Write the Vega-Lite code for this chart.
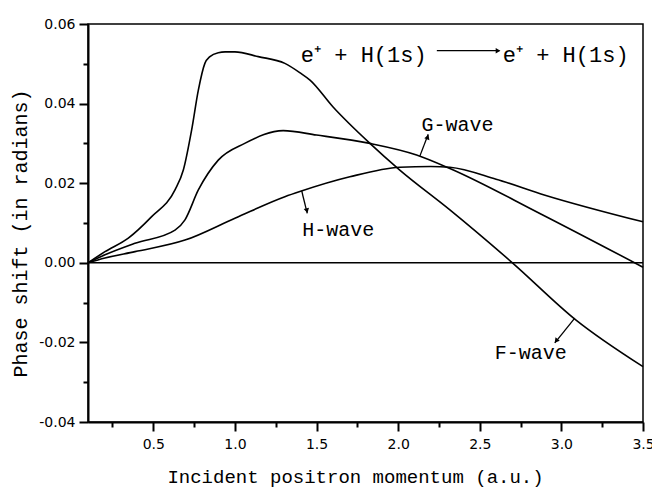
{
  "$schema": "https://vega.github.io/schema/vega-lite/v6.json",
  "width": 555,
  "height": 398,
  "autosize": "none",
  "padding": {"left": 88, "top": 24, "right": 9, "bottom": 65},
  "background": "white",
  "config": {"view": {"stroke": "black", "strokeWidth": 1.5}},
  "datasets": {
    "curves": [
      {"series": "F", "x": 0.1, "y": 0.0},
      {"series": "F", "x": 0.204, "y": 0.0028},
      {"series": "F", "x": 0.347, "y": 0.0062},
      {"series": "F", "x": 0.49, "y": 0.0116},
      {"series": "F", "x": 0.633, "y": 0.0183},
      {"series": "F", "x": 0.684, "y": 0.0233},
      {"series": "F", "x": 0.735, "y": 0.0334},
      {"series": "F", "x": 0.776, "y": 0.0434},
      {"series": "F", "x": 0.816, "y": 0.0501},
      {"series": "F", "x": 0.847, "y": 0.0518},
      {"series": "F", "x": 0.898, "y": 0.0528},
      {"series": "F", "x": 0.94, "y": 0.053},
      {"series": "F", "x": 1.0, "y": 0.053},
      {"series": "F", "x": 1.143, "y": 0.0518},
      {"series": "F", "x": 1.306, "y": 0.0501},
      {"series": "F", "x": 1.4, "y": 0.0477},
      {"series": "F", "x": 1.46, "y": 0.0459},
      {"series": "F", "x": 1.6, "y": 0.0392},
      {"series": "F", "x": 1.827, "y": 0.03},
      {"series": "F", "x": 2.01, "y": 0.0233},
      {"series": "F", "x": 2.317, "y": 0.0133},
      {"series": "F", "x": 2.7, "y": 0.0},
      {"series": "F", "x": 3.09, "y": -0.0144},
      {"series": "F", "x": 3.5, "y": -0.0261},
      {"series": "G", "x": 0.1, "y": 0.0},
      {"series": "G", "x": 0.204, "y": 0.002},
      {"series": "G", "x": 0.388, "y": 0.0049},
      {"series": "G", "x": 0.633, "y": 0.0082},
      {"series": "G", "x": 0.694, "y": 0.0108},
      {"series": "G", "x": 0.776, "y": 0.0183},
      {"series": "G", "x": 0.898, "y": 0.0258},
      {"series": "G", "x": 1.06, "y": 0.03},
      {"series": "G", "x": 1.296, "y": 0.0332},
      {"series": "G", "x": 1.5, "y": 0.0321},
      {"series": "G", "x": 1.827, "y": 0.03},
      {"series": "G", "x": 2.113, "y": 0.0271},
      {"series": "G", "x": 2.317, "y": 0.0237},
      {"series": "G", "x": 2.868, "y": 0.0124},
      {"series": "G", "x": 3.5, "y": -0.0011},
      {"series": "H", "x": 0.1, "y": 0.0},
      {"series": "H", "x": 0.204, "y": 0.0012},
      {"series": "H", "x": 0.388, "y": 0.0028},
      {"series": "H", "x": 0.694, "y": 0.0057},
      {"series": "H", "x": 1.0, "y": 0.0112},
      {"series": "H", "x": 1.306, "y": 0.0166},
      {"series": "H", "x": 1.398, "y": 0.0179},
      {"series": "H", "x": 1.704, "y": 0.0216},
      {"series": "H", "x": 2.01, "y": 0.024},
      {"series": "H", "x": 2.2, "y": 0.0242},
      {"series": "H", "x": 2.317, "y": 0.024},
      {"series": "H", "x": 2.6, "y": 0.021},
      {"series": "H", "x": 2.9, "y": 0.017},
      {"series": "H", "x": 3.5, "y": 0.0103},
      {"series": "zero", "x": 0.1, "y": 0.0},
      {"series": "zero", "x": 3.5, "y": 0.0}
    ],
    "arrows": [
      {"id": "G", "x": 2.133, "y": 0.0268, "x2": 2.184, "y2": 0.0323},
      {"id": "H", "x": 1.409, "y": 0.0181, "x2": 1.443, "y2": 0.0124},
      {"id": "F", "x": 3.082, "y": -0.0139, "x2": 2.96, "y2": -0.0201},
      {"id": "R", "x": 2.237, "y": 0.0533, "x2": 2.62, "y2": 0.0533}
    ],
    "heads": [
      {"id": "G", "x": 2.181, "y": 0.0316},
      {"id": "H", "x": 1.441, "y": 0.0131},
      {"id": "F", "x": 2.968, "y": -0.0196},
      {"id": "R", "x": 2.612, "y": 0.0533}
    ],
    "labels": [
      {"text": "G-wave", "x": 2.363, "y": 0.0346},
      {"text": "H-wave", "x": 1.633, "y": 0.0082},
      {"text": "F-wave", "x": 2.813, "y": -0.0227}
    ],
    "reaction": [
      {"text": "e⁺ + H(1s)", "x": 1.404, "y": 0.0504},
      {"text": "e⁺ + H(1s)", "x": 2.641, "y": 0.0504}
    ]
  },
  "encoding": {
    "x": {
      "field": "x",
      "type": "quantitative",
      "scale": {"domain": [0.1, 3.5], "nice": false, "zero": false},
      "title": "Incident positron momentum (a.u.)",
      "axis": {
        "values": [0.25, 0.5, 0.75, 1.0, 1.25, 1.5, 1.75, 2.0, 2.25, 2.5, 2.75, 3.0, 3.25, 3.5],
        "labelExpr": "abs(round(datum.value*2)-datum.value*2)<0.01 ? format(datum.value,'.1f') : ''",
        "tickSize": {"condition": {"test": "abs(round(datum.value*2)-datum.value*2)<0.01", "value": 9}, "value": 5},
        "tickWidth": 2,
        "tickColor": "black",
        "domainColor": "black",
        "domainWidth": 2,
        "grid": false,
        "labelFont": "DejaVu Sans",
        "labelFontSize": 14,
        "labelColor": "black",
        "labelPadding": 6,
        "labelOverlap": false,
        "labelFlush": false,
        "titleFont": "Liberation Mono",
        "titleFontSize": 19,
        "titleFontWeight": "normal",
        "titleColor": "black",
        "titleX": 267,
        "titleY": 60,
        "titleAlign": "center",
        "titleBaseline": "alphabetic"
      }
    },
    "y": {
      "field": "y",
      "type": "quantitative",
      "scale": {"domain": [-0.04, 0.06], "nice": false, "zero": false},
      "title": "Phase shift (in radians)",
      "axis": {
        "values": [-0.04, -0.03, -0.02, -0.01, 0, 0.01, 0.02, 0.03, 0.04, 0.05, 0.06],
        "labelExpr": "abs(round(datum.value*50)-datum.value*50)<0.01 ? (datum.value<-0.0001?'-':'') + format(abs(datum.value),'.2f') : ''",
        "tickSize": {"condition": {"test": "abs(round(datum.value*50)-datum.value*50)<0.01", "value": 9}, "value": 5},
        "tickWidth": 2,
        "tickColor": "black",
        "domainColor": "black",
        "domainWidth": 2,
        "grid": false,
        "labelFont": "DejaVu Sans",
        "labelFontSize": 14,
        "labelColor": "black",
        "labelPadding": 4,
        "labelOverlap": false,
        "labelFlush": false,
        "titleFont": "Liberation Mono",
        "titleFontSize": 20,
        "titleFontWeight": "normal",
        "titleColor": "black",
        "titleAngle": -90,
        "titleX": -68,
        "titleY": 209,
        "titleAlign": "center",
        "titleBaseline": "middle"
      }
    }
  },
  "layer": [
    {
      "data": {"name": "curves"},
      "mark": {"type": "line", "color": "black", "strokeWidth": 1.6, "interpolate": "monotone"},
      "encoding": {"detail": {"field": "series"}}
    },
    {
      "data": {"name": "arrows"},
      "mark": {"type": "rule", "color": "black", "strokeWidth": 1.3},
      "encoding": {"x2": {"field": "x2"}, "y2": {"field": "y2"}}
    },
    {
      "data": {"name": "heads"},
      "transform": [{"filter": "datum.id == 'G'"}],
      "mark": {"type": "point", "shape": "triangle-up", "filled": true, "color": "black", "size": 30, "angle": 21, "opacity": 1}
    },
    {
      "data": {"name": "heads"},
      "transform": [{"filter": "datum.id == 'H'"}],
      "mark": {"type": "point", "shape": "triangle-up", "filled": true, "color": "black", "size": 30, "angle": 166, "opacity": 1}
    },
    {
      "data": {"name": "heads"},
      "transform": [{"filter": "datum.id == 'F'"}],
      "mark": {"type": "point", "shape": "triangle-up", "filled": true, "color": "black", "size": 30, "angle": 219, "opacity": 1}
    },
    {
      "data": {"name": "heads"},
      "transform": [{"filter": "datum.id == 'R'"}],
      "mark": {"type": "point", "shape": "triangle-right", "filled": true, "color": "black", "size": 30, "opacity": 1}
    },
    {
      "data": {"name": "labels"},
      "mark": {"type": "text", "font": "Liberation Mono", "fontSize": 20, "color": "black", "align": "center", "baseline": "middle"},
      "encoding": {"text": {"field": "text"}}
    },
    {
      "data": {"name": "reaction"},
      "mark": {"type": "text", "font": "Liberation Mono", "fontSize": 22, "color": "black", "align": "left", "baseline": "alphabetic"},
      "encoding": {"text": {"field": "text"}}
    }
  ]
}
